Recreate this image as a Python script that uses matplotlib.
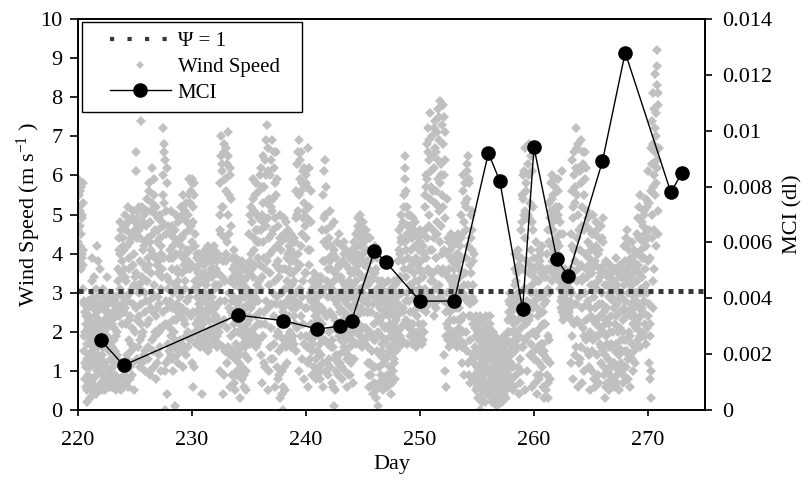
import numpy as np
import matplotlib
matplotlib.use("Agg")
import matplotlib.pyplot as plt
from matplotlib.lines import Line2D
from matplotlib.ticker import FuncFormatter
from matplotlib.legend_handler import HandlerLine2D

plt.rcParams['font.family'] = ['Liberation Serif', 'DejaVu Serif']
plt.rcParams['mathtext.fontset'] = 'custom'
plt.rcParams['mathtext.rm'] = 'Liberation Serif'
plt.rcParams['mathtext.it'] = 'Liberation Serif:italic'

# ---------------- data ----------------
first_day = 220
# wind speed (m/s) on the hour, one row per day
ws_220_229 = [
    [5.9,4.6,5.5,3.8, 5.1,4.2,5.7,3.6, 4.9,4.0,5.3,3.7, 2.8,1.9,2.5,1.2, 2.2,0.6,1.7,0.2, 2.6,0.9,2.1,1.4],
    [2.4,1.1,2.8,0.5, 1.9,3.9,1.5,2.6, 0.8,2.2,3.4,1.3, 2.7,0.4,1.8,2.5, 4.2,1.0,2.9,1.6, 0.6,2.3,3.6,1.2],
    [2.0,0.7,2.6,1.4, 3.1,0.9,2.3,1.7, 2.8,0.5,1.9,2.5, 1.1,3.4,2.1,0.8, 2.7,1.5,2.4,0.6, 1.8,2.9,1.3,2.2],
    [1.6,2.5,0.7,2.1, 1.2,2.8,0.9,1.9, 2.4,0.5,2.0,1.4, 2.6,3.3,0.8,4.1, 2.5,4.8,3.0,0.6, 3.8,2.2,4.4,2.9],
    [3.6,0.9,4.7,2.6, 5.0,0.7,3.3,4.2, 1.3,2.8,5.2,1.8, 3.9,0.8,2.4,4.5, 1.5,3.1,4.9,1.2, 2.7,0.5,4.0,2.0],
    [3.4,4.8,6.6,6.1, 2.3,4.4,1.6,5.1, 3.0,4.6,1.1,3.8, 7.4,2.7,5.2,1.9, 4.1,3.3,5.0,1.4, 2.5,4.3,1.0,3.6],
    [4.7,2.2,5.4,1.3, 3.9,5.8,2.8,4.3, 0.9,3.5,5.1,1.8, 6.2,4.0,2.5,5.5, 1.1,3.2,4.6,2.0, 5.0,0.8,3.7,2.6],
    [2.9,4.6,1.4,3.8, 5.0,2.1,4.2,1.0, 3.4,4.8,2.5,6.0, 7.2,6.8,5.3,0.0, 6.4,1.2,4.5,5.8, 0.4,3.1,2.2,3.9],
    [1.5,4.1,2.8,5.1, 1.9,3.6,4.7,2.3, 1.0,3.9,4.4,2.0, 0.1,3.2,5.0,1.6, 2.7,4.3,1.2,3.5, 4.9,2.4,1.8,4.0],
    [3.0,5.2,1.7,4.4, 2.6,5.5,1.1,3.7, 4.9,2.2,3.3,5.3, 1.4,4.1,2.8,5.0, 2.0,4.6,5.9,1.8, 3.6,5.6,2.4,4.3],
]
ws_230_239 = [
    [5.9,1.2,4.8,0.6, 5.5,3.1,2.0,4.5, 1.7,3.6,2.5,3.9, 1.8,3.2,2.7,4.0, 1.6,2.9,3.5,2.1, 3.8,2.4,0.4,3.0],
    [2.2,3.7,1.6,4.1, 2.8,3.3,1.9,3.9, 2.5,4.2,1.5,3.0, 2.6,3.8,2.0,3.5, 1.7,4.0,2.9,3.4, 1.8,3.6,2.3,4.2],
    [3.1,1.8,3.9,2.4, 3.5,1.6,4.0,2.7, 3.2,2.0,4.6,1.0, 5.8,6.5,7.0,3.4, 6.1,0.4,5.2,2.3, 6.8,4.4,1.5,5.6],
    [3.8,6.3,1.2,5.0, 7.1,2.6,4.5,0.6, 6.0,3.3,5.4,1.9, 2.8,0.9,3.6,1.5, 4.1,2.2,0.5,3.2, 1.7,3.9,2.5,1.0],
    [2.0,3.5,1.2,2.8, 3.7,0.3,2.4,1.6, 3.1,0.8,3.8,1.9, 2.6,0.6,3.3,1.4, 2.9,3.6,1.0,2.2, 3.4,1.8,2.7,3.0],
    [2.3,4.5,1.7,3.8, 5.2,2.6,4.8,1.9, 3.4,5.9,2.1,4.1, 5.5,2.9,1.6,4.6, 3.2,5.0,2.2,3.9, 5.6,1.8,4.3,6.0],
    [3.1,6.2,1.4,5.0, 0.7,4.3,6.5,2.5, 5.7,1.1,3.6,6.0, 2.8,7.3,7.8,4.9, 0.5,6.7,3.2,5.4, 1.6,4.0,6.4,2.1],
    [5.1,6.9,1.3,4.6, 6.2,2.4,5.8,0.6, 3.7,6.6,1.9,4.2, 2.9,0.8,4.7,1.5, 3.4,0.3,5.0,2.2, 4.1,1.0,3.0,0.6],
    [0.0,4.9,1.8,3.6, 0.5,4.4,2.7,1.2, 3.9,2.2,4.6,1.7, 3.1,4.2,2.0,3.5, 1.6,4.5,2.6,3.8, 1.9,4.0,2.4,3.3],
    [2.8,4.3,1.5,5.6, 3.0,6.3,2.1,7.7, 5.1,1.0,6.9,3.7, 5.9,2.4,6.6,4.5, 1.3,6.1,3.3,5.3, 0.8,4.7,2.6,5.8],
]
ws_240_249 = [
    [3.5,6.0,1.6,4.9, 6.7,0.6,5.2,2.9, 4.1,1.3,5.6,2.2, 3.3,0.9,2.6,1.7, 3.5,1.1,2.4,3.0, 0.8,2.1,3.4,1.5],
    [2.7,1.0,3.2,1.9, 2.5,0.8,3.4,2.0, 1.4,3.0,4.6,0.6, 5.5,3.1,6.1,1.8, 5.0,6.4,2.4,5.7, 1.2,4.2,3.6,0.9],
    [4.4,2.0,5.1,1.1, 3.6,4.7,0.7,2.9, 4.0,1.6,0.1,3.3, 4.8,2.3,0.5,3.9, 1.4,2.7,4.3,0.9, 3.0,1.9,3.7,2.5],
    [1.2,3.4,2.1,4.2, 0.8,2.9,3.8,1.6, 2.5,4.3,1.0,3.1, 2.2,3.7,0.6,2.7, 4.0,1.4,3.3,2.0, 3.9,0.9,2.6,3.5],
    [1.8,4.1,0.7,3.2, 2.4,4.3,1.3,3.6, 2.7,4.5,1.7,3.9, 2.9,4.7,4.9,2.2, 3.5,5.0,1.9,4.2, 2.6,3.8,1.6,4.4],
    [3.0,4.8,2.1,3.7, 1.7,4.5,2.8,3.4, 1.9,4.1,2.5,1.2, 3.6,0.6,4.4,2.0, 3.3,0.9,3.9,1.5, 2.7,0.4,3.5,1.8],
    [2.9,4.2,1.1,3.6, 0.5,2.4,3.9,0.1, 2.0,3.3,0.7,2.6, 1.4,3.1,0.9,2.2, 1.7,2.9,0.5,3.2, 1.2,2.5,1.8,0.8],
    [2.7,1.3,3.0,0.6, 2.1,3.3,1.6,2.4, 0.9,2.8,1.9,0.4, 3.1,1.5,2.5,1.0, 2.9,2.2,1.3,3.2, 1.8,2.6,3.0,2.0],
    [1.9,2.7,3.8,1.6, 4.6,2.5,3.4,5.0, 2.1,4.3,3.0,1.8, 4.8,2.6,5.5,3.6, 5.9,6.5,2.3,4.1, 5.2,1.7,3.9,4.7],
    [2.8,4.4,1.9,5.0, 3.2,2.2,4.6,1.7, 3.7,4.9,2.5,3.5, 1.8,4.2,2.9,3.9, 1.6,4.5,2.4,3.3, 2.0,4.1,2.7,3.6],
]
ws_250_259 = [
    [1.9,4.3,2.6,3.8, 1.7,4.5,2.2,3.4, 4.0,2.0,5.2,3.1, 6.0,2.5,6.8,4.4, 3.6,7.2,5.0,2.7, 6.4,4.1,7.6,3.3],
    [5.7,2.9,7.0,4.6, 3.5,6.2,2.4,5.3, 7.4,3.9,6.6,4.8, 2.8,5.9,7.7,3.2, 5.1,6.9,4.3,7.9, 3.0,6.3,4.0,5.5],
    [7.8,3.6,6.0,1.4, 4.9,7.1,2.5,0.6, 5.4,3.0,1.8,4.4, 2.7,3.6,1.6,4.1, 2.3,3.3,4.5,1.9, 3.8,2.6,4.2,2.0],
    [3.4,1.7,4.3,2.8, 3.7,1.6,4.0,2.3, 3.1,4.5,2.1,3.6, 1.8,4.2,2.9,5.0, 1.2,3.9,5.6,2.4, 4.8,0.9,3.5,5.3],
    [2.0,4.6,6.1,1.5, 5.4,6.5,3.2,0.9, 5.8,2.7,0.7,4.4, 3.5,1.3,5.1,2.2, 3.8,0.8,4.0,1.6, 2.3,0.5,1.9,1.1],
    [1.4,0.6,2.2,1.0, 1.8,0.3,2.4,0.0, 1.5,0.8,2.0,1.2, 0.4,1.7,2.3,0.9, 1.3,0.2,2.1,1.1, 0.7,1.9,0.5,1.6],
    [1.0,2.1,0.4,1.6, 2.4,0.8,1.3,0.2, 1.8,1.1,0.5,1.5, 0.9,1.9,0.3,1.2, 0.7,1.7,0.1,1.4, 0.6,1.0,1.8,0.4],
    [1.3,0.5,1.7,0.9, 1.1,0.2,1.6,0.8, 1.9,0.4,1.2,0.7, 1.5,0.3,1.0,1.8, 0.6,2.3,1.4,2.8, 0.9,2.0,3.0,1.2],
    [2.5,0.8,1.7,2.9, 1.1,2.2,0.6,3.2, 1.5,4.0,2.6,0.9, 3.5,1.8,4.1,2.3, 0.4,3.7,1.3,2.8, 4.6,1.0,5.5,2.4],
    [6.0,1.6,5.0,3.1, 0.5,6.7,4.4,2.2, 5.6,1.0,3.8,6.3, 2.7,4.9,6.8,1.4, 5.3,4.1,3.0,6.1, 0.6,4.6,2.0,3.4],
]
ws_260_270 = [
    [1.5,3.9,0.7,2.8, 4.3,1.9,3.3,0.4, 2.4,3.7,1.2,4.1, 2.1,0.9,3.5,1.7, 2.9,4.2,0.6,2.5, 3.6,0.3,1.4,3.0],
    [2.2,0.5,3.4,1.3, 4.0,0.3,4.6,1.8, 5.3,3.6,0.8,5.8, 4.2,3.3,6.0,4.8, 3.5,5.5,4.1,5.0, 3.7,5.7,4.4,3.4],
    [4.9,3.6,5.6,4.0, 3.3,5.2,4.5,3.1, 3.6,2.6,3.4,2.9, 6.1,2.3,3.5,2.7, 3.2,2.5,3.6,2.8, 3.0,2.4,3.3,2.7],
    [3.1,2.5,3.5,2.8, 3.3,4.5,1.2,5.6, 3.0,6.4,0.8,4.9, 2.2,6.0,3.8,5.3, 1.6,7.2,4.4,6.7, 0.6,5.0,2.9,6.2],
    [4.1,1.3,5.8,6.9, 2.6,4.7,0.7,6.3, 3.4,5.5,1.9,4.0, 6.6,2.3,3.6,5.1, 1.5,4.3,2.8,3.7, 1.1,4.6,0.5,3.2],
    [2.4,4.2,1.0,3.5, 5.0,1.8,2.9,4.5, 0.6,3.8,2.2,4.8, 1.4,3.1,4.0,0.9, 2.7,4.4,1.7,3.4, 2.1,4.7,1.2,3.0],
    [3.6,1.5,4.9,2.5, 0.9,0.3,3.2,1.9, 3.8,0.7,2.6,3.4, 1.3,2.9,0.5,3.7, 2.0,1.1,3.1,2.4, 0.8,3.5,1.6,2.8],
    [1.2,3.3,2.2,0.6, 3.9,1.7,2.7,0.9, 3.5,2.0,1.4,3.0, 0.5,2.5,3.7,1.8, 2.9,1.0,3.4,2.3, 0.7,2.6,4.2,1.5],
    [3.8,1.1,4.4,4.6, 2.4,0.8,3.6,2.0, 4.1,1.4,3.2,0.6, 2.7,3.9,1.7,4.3, 2.2,1.0,3.5,2.9, 1.6,3.0,2.1,4.0],
    [2.3,4.5,1.8,3.7, 5.2,2.6,4.0,1.6, 5.5,3.1,2.0,4.8, 3.4,1.9,4.3,2.8, 5.0,2.2,3.6,5.4, 1.7,4.6,3.0,2.4],
    [4.4,6.1,1.2,5.3, 0.8,3.9,6.7,0.3, 5.0,7.4,2.6,8.1, 6.0,4.6,8.6,5.5, 7.0,4.2,8.3,9.2, 6.4,5.1,7.8],
]
# wind speed (m/s) on the half hour, one row per day
wsh_220_229 = [
    [4.3,5.2,3.9,4.7, 5.6,3.7,4.5,5.0, 3.9,5.8,4.1,3.1, 1.5,2.7,0.8,2.0, 1.1,2.4,0.5,1.3, 1.9,2.8,0.7,2.3],
    [1.7,0.3,2.2,1.4, 3.3,0.7,2.0,1.2, 2.9,1.6,0.6,2.4, 1.9,1.1,3.1,0.9, 2.1,3.8,1.4,0.5, 2.6,1.0,1.9,2.7],
    [1.3,2.2,0.5,1.8, 2.6,1.6,0.8,2.9, 1.2,2.3,0.7,1.6, 2.8,1.9,0.6,2.5, 1.0,2.2,1.7,3.0, 0.9,2.4,1.8,0.6],
    [2.3,1.1,2.7,0.6, 1.8,2.4,1.5,0.7, 2.9,1.3,2.5,0.8, 3.6,4.4,2.4,3.1, 4.0,0.5,3.5,4.6, 2.7,0.8,3.4,4.2],
    [2.5,4.1,1.0,3.4, 2.2,4.6,1.4,2.9, 4.8,0.6,3.6,2.3, 1.1,4.3,3.0,1.7, 4.4,2.1,0.9,3.7, 5.1,1.6,3.2,4.6],
    [4.5,2.6,3.5,4.9, 1.3,3.2,4.7,2.4, 5.2,1.8,3.1,4.4, 2.2,4.7,3.4,1.2, 4.8,2.0,3.7,4.2, 1.5,3.0,5.1,2.8],
    [3.3,5.1,1.6,4.4, 2.3,3.7,5.6,1.0, 4.8,2.6,4.1,3.0, 5.3,1.5,4.5,2.9, 5.9,1.9,3.9,5.2, 2.4,4.3,1.2,4.9],
    [3.5,2.0,4.9,2.7, 1.6,4.4,3.1,4.0, 2.1,3.6,5.5,4.7, 6.6,3.9,2.2,1.0, 5.1,2.8,6.2,3.4, 2.6,1.7,4.7,1.3],
    [3.3,2.1,4.5,1.4, 3.9,2.6,1.3,4.2, 3.0,1.6,2.6,4.6, 1.8,4.0,2.3,3.6, 1.4,3.3,4.8,2.5, 3.1,1.5,4.4,2.9],
    [4.2,2.4,3.5,5.0, 1.5,3.9,4.5,2.3, 3.1,5.1,1.9,4.0, 3.6,2.5,4.8,1.6, 3.8,5.5,2.9,4.1, 5.3,1.9,4.7,5.8],
]
wsh_230_239 = [
    [3.7,5.2,2.5,5.8, 1.1,4.2,3.3,2.2, 3.1,2.0,4.0,2.9, 3.5,2.3,3.7,1.9, 3.4,2.6,1.7,3.9, 2.8,3.3,1.8,2.5],
    [3.0,1.9,3.5,2.4, 4.0,1.7,3.2,2.7, 3.8,2.0,3.4,2.3, 1.6,3.9,2.9,2.1, 3.6,2.5,1.8,3.8, 2.7,4.1,1.9,3.2],
    [2.6,3.6,2.1,3.2, 1.9,3.8,2.3,3.5, 1.7,3.9,2.8,5.0, 2.2,4.5,6.3,5.2, 1.6,3.8,6.6,0.9, 3.3,5.9,2.8,4.0],
    [6.7,2.1,4.3,6.5, 1.6,5.5,3.0,6.2, 1.4,4.7,2.5,3.9, 1.5,3.4,2.4,0.7, 2.9,1.3,3.7,2.0, 3.5,0.9,2.7,3.8],
    [2.6,1.5,3.3,0.9, 2.2,1.4,3.4,2.9, 1.1,2.5,1.7,3.2, 0.9,2.1,3.6,2.4, 1.6,2.6,0.5,3.1, 2.0,3.7,1.3,2.4],
    [3.5,2.0,5.0,2.9, 4.0,1.8,3.6,5.4, 2.7,4.4,3.0,5.1, 1.9,3.7,5.8,2.4, 4.3,1.7,4.6,2.8, 3.3,4.9,2.5,3.7],
    [4.6,2.2,5.7,3.4, 5.3,1.9,4.8,1.2, 3.9,6.4,2.2,4.7, 6.9,5.3,3.8,6.1, 2.6,4.4,1.0,6.0, 3.5,5.2,1.3,4.5],
    [2.7,4.1,5.4,3.0, 1.7,6.6,3.3,4.9, 5.5,2.7,5.9,1.1, 3.8,2.0,3.6,0.9, 4.4,1.9,2.7,4.3, 1.6,3.6,0.4,2.5],
    [2.6,1.1,4.5,2.2, 3.1,1.6,4.8,3.3, 2.8,4.0,1.9,3.6, 2.4,3.8,2.9,1.7, 4.1,3.2,1.8,4.3, 2.8,3.5,1.7,4.4],
    [3.8,2.2,4.9,2.6, 5.0,3.6,6.6,4.0, 2.7,5.5,3.1,6.4, 1.9,4.2,5.6,2.9, 5.8,2.2,4.9,1.7, 6.2,3.5,5.1,1.9],
]
wsh_240_249 = [
    [4.4,2.6,5.7,1.2, 4.1,3.7,6.2,1.9, 3.0,4.8,1.8,2.8, 1.5,3.1,2.0,3.3, 0.9,2.8,1.9,2.6, 3.2,1.3,2.7,2.3],
    [1.5,2.9,2.3,1.1, 3.3,1.7,2.6,1.0, 3.4,2.2,2.6,3.8, 1.2,4.3,4.9,2.5, 3.8,1.0,4.6,3.3, 2.4,1.7,2.9,3.9],
    [1.3,3.2,3.8,2.5, 1.6,4.2,3.1,1.8, 2.4,0.6,2.1,4.1, 1.3,3.5,2.8,1.0, 3.6,2.1,1.2,3.4, 2.0,4.5,1.4,2.9],
    [2.6,1.8,3.7,1.1, 3.3,1.9,2.3,4.0, 1.5,3.2,2.8,1.8, 4.1,1.3,3.0,2.4, 1.9,3.6,0.9,2.9, 1.6,3.1,2.2,1.2],
    [2.9,1.3,3.8,1.7, 3.5,2.0,3.0,4.0, 3.3,2.1,4.2,2.4, 3.7,2.6,4.0,4.6, 2.0,4.4,3.1,2.5, 4.7,1.8,3.4,2.8],
    [4.0,2.5,4.3,1.8, 3.2,4.6,2.1,2.5, 3.8,1.6,3.2,2.7, 0.9,2.9,3.8,1.2, 2.5,4.1,1.9,3.0, 1.1,3.4,2.2,0.7],
    [3.5,1.8,2.9,0.3, 4.0,1.5,3.1,0.6, 2.7,1.1,2.3,3.0, 0.6,1.9,2.8,1.5, 3.3,0.8,2.4,1.3, 2.8,0.7,2.1,3.0],
    [1.8,2.5,0.9,2.7, 1.4,2.9,0.7,3.0, 2.2,1.1,2.6,1.5, 2.0,0.7,2.8,1.7, 3.3,1.2,2.4,0.8, 2.3,1.5,2.1,2.9],
    [2.4,3.3,1.8,4.1, 3.0,4.0,1.9,4.4, 3.4,1.7,4.7,2.5, 3.8,5.2,2.2,4.3, 6.2,3.4,5.6,2.8, 4.5,3.0,5.0,2.2],
    [3.6,2.1,4.7,2.5, 4.1,1.9,3.8,4.4, 2.2,3.1,4.6,2.0, 3.3,4.8,1.9,3.0, 4.2,2.6,3.7,1.8, 4.4,3.1,2.2,4.6],
]
wsh_250_259 = [
    [3.1,2.0,4.1,2.9, 3.5,1.8,4.2,2.6, 3.0,4.6,2.7,5.5, 3.9,5.7,3.0,5.9, 6.6,2.9,4.7,6.9, 3.5,5.4,2.8,6.1],
    [4.1,6.5,3.3,5.6, 7.2,2.7,4.4,6.7, 3.1,5.6,2.6,7.1, 4.5,6.4,3.6,5.2, 7.5,2.9,5.8,6.0, 4.7,7.3,3.5,6.8],
    [5.2,2.8,7.5,4.1, 1.0,6.4,3.5,1.9, 4.0,2.2,3.4,2.1, 4.3,1.9,3.0,2.5, 3.9,1.7,3.1,2.6, 4.4,1.8,3.2,3.6],
    [2.3,3.9,2.0,3.3, 2.6,4.4,1.9,3.0, 4.0,2.6,3.8,1.7, 3.4,2.3,4.4,1.6, 4.5,3.0,2.0,6.0, 3.2,1.7,5.8,2.9],
    [3.9,5.2,2.8,6.3, 4.2,1.2,5.9,2.4, 3.7,1.8,5.0,2.4, 4.6,2.9,4.1,3.2, 1.4,2.8,1.2,2.1, 0.9,1.5,2.4,0.7],
    [0.9,2.0,0.3,1.5, 1.1,2.2,0.6,1.3, 1.9,0.5,1.6,0.2, 1.1,2.0,0.7,1.4, 1.8,0.5,1.2,2.4, 1.5,0.4,1.3,2.0],
    [1.7,0.6,1.3,2.2, 0.5,1.9,0.9,1.6, 0.3,1.4,2.0,0.7, 1.6,0.4,1.0,1.7, 1.1,0.3,1.3,0.8, 1.5,0.2,1.2,1.6],
    [0.8,1.5,0.3,1.4, 0.6,1.3,1.0,0.3, 1.4,0.9,1.8,1.1, 0.5,1.7,0.8,1.3, 2.0,1.2,0.7,2.5, 1.7,2.7,1.5,2.4],
    [1.4,2.3,1.1,2.0, 0.5,2.7,1.8,2.3, 3.6,2.0,3.3,1.6, 2.8,1.1,3.0,3.9, 1.9,2.6,0.7,3.6, 2.1,3.9,1.6,4.8],
    [3.6,5.4,2.3,6.1, 1.8,5.1,3.1,5.8, 2.8,4.9,1.9,5.0, 3.5,6.0,2.3,3.7, 2.4,6.5,1.7,4.8, 3.2,2.6,5.2,1.3],
]
wsh_260_270 = [
    [2.8,1.3,3.6,2.0, 3.0,0.9,2.6,3.9, 1.6,2.9,3.3,0.8, 3.8,1.5,2.5,4.0, 1.1,3.5,2.2,1.7, 2.7,1.5,3.4,2.2],
    [1.3,2.8,0.9,3.6, 1.9,3.1,0.7,4.3, 3.0,4.9,1.2,4.6, 5.1,3.8,5.4,3.5, 4.6,4.0,5.9,3.9, 4.9,3.5,5.2,4.2],
    [4.3,5.0,3.6,5.9, 4.2,3.5,4.8,3.4, 2.8,3.3,2.5,3.1, 4.5,2.9,3.1,2.4, 3.5,2.8,3.0,2.4, 3.4,2.8,3.1,2.5],
    [2.7,3.4,2.4,3.1, 2.6,3.6,2.3,4.2, 1.9,5.2,3.5,6.6, 4.1,1.4,5.7,2.7, 6.2,3.3,5.5,2.3, 6.8,3.6,1.2,4.6],
    [2.2,6.1,3.7,1.6, 5.2,3.3,6.6,2.1, 4.6,1.0,5.9,3.0, 4.7,1.8,6.2,2.7, 3.4,1.9,4.9,1.4, 3.9,2.6,2.0,4.1],
    [3.6,1.5,4.5,2.3, 3.2,4.1,0.8,3.7, 2.6,1.9,4.2,3.1, 2.3,4.6,1.9,3.3, 4.1,0.7,3.6,2.4, 1.6,3.5,2.7,4.4],
    [2.0,4.3,1.1,3.7, 2.2,1.4,2.6,0.6, 2.3,3.5,1.7,1.0, 3.2,1.6,2.2,3.0, 0.9,3.6,1.7,0.6, 2.9,2.0,3.3,1.2],
    [2.6,1.5,3.6,1.1, 2.4,3.1,0.7,3.2, 1.6,2.8,3.6,1.1, 2.1,3.4,1.2,3.0, 1.5,3.7,2.0,0.9, 3.2,1.8,3.5,2.8],
    [2.5,3.3,1.8,3.5, 1.5,3.0,1.3,4.3, 2.5,3.7,1.9,2.4, 3.4,1.3,3.2,2.6, 3.8,1.5,2.6,4.1, 2.4,1.2,3.6,2.8],
    [3.3,2.7,4.9,2.2, 3.5,4.4,1.9,3.0, 4.1,2.4,3.9,2.6, 4.7,2.5,3.0,5.1, 3.9,4.5,1.9,4.2, 3.2,5.2,2.1,3.8],
    [5.3,2.7,4.6,1.9, 2.2,5.6,1.0,4.4, 6.3,3.3,5.7,6.8, 7.7,3.6,7.2,6.6, 5.8,7.6,6.2,8.8, 8.1,4.5,6.7],
]

mci_day = [222, 224, 234, 238, 241, 243, 244, 246, 247, 250, 253,
           256, 257, 259, 260, 262, 263, 266, 268, 272, 273]
mci_val = [0.0025, 0.0016, 0.0034, 0.0032, 0.0029, 0.0030, 0.0032, 0.0057, 0.0053, 0.0039, 0.0039,
           0.0092, 0.0082, 0.0036, 0.0094, 0.0054, 0.0048, 0.0089, 0.0128, 0.0078, 0.0085]

psi1_wind = 3.05   # wind speed at which Psi = 1

x_ticks = [220, 230, 240, 250, 260, 270]
y_ticks = list(range(0, 11))
mci_ticks = [0, 0.002, 0.004, 0.006, 0.008, 0.01, 0.012, 0.014]

# --------------- assemble the half-hourly series ---------------
t_wind, v_wind = [], []
for rows, offset in ((ws_220_229 + ws_230_239 + ws_240_249 + ws_250_259 + ws_260_270, 0.0),
                     (wsh_220_229 + wsh_230_239 + wsh_240_249 + wsh_250_259 + wsh_260_270, 0.5)):
    for i, row in enumerate(rows):
        for h, v in enumerate(row):
            t_wind.append(first_day + i + (h + offset) / 24.0)
            v_wind.append(v)


class PaddedLine(HandlerLine2D):
    """Line handle drawn with some empty room on its left."""
    def __init__(self, lpad, **kw):
        super().__init__(**kw)
        self.lpad = lpad

    def create_artists(self, legend, orig_handle, xdescent, ydescent, width,
                       height, fontsize, trans):
        p = self.lpad * fontsize
        return super().create_artists(legend, orig_handle, xdescent - p, ydescent,
                                      width - p, height, fontsize, trans)


# --------------- plot ---------------
FS = 16
fig = plt.figure(figsize=(8.11, 4.8), dpi=100)
ax = fig.add_axes([78/811, 1 - 410/480, (705-78)/811, (410-19)/480])

gray = '#c0c0c0'
dot_col = '#383838'
ax.plot(t_wind, v_wind, ls='none', marker='D', ms=5.4, mew=0, color=gray, zorder=2)
ax.axhline(psi1_wind, color=dot_col, lw=3.6, ls=(0, (1, 1)), zorder=3)

ax.set_xlim(220, 275)
ax.set_ylim(0, 10)
ax.set_xticks(x_ticks)
ax.set_yticks(y_ticks)

ax2 = ax.twinx()
ax2.plot(mci_day, mci_val, '-o', color='k', lw=1.0, ms=9.5, zorder=5)
ax2.set_ylim(0, 0.014)
ax2.set_yticks(mci_ticks)
ax2.yaxis.set_major_formatter(FuncFormatter(lambda v, p: '%g' % v))

for a in (ax, ax2):
    for s in a.spines.values():
        s.set_linewidth(1.2)
        s.set_color('k')

ax.tick_params(axis='x', direction='out', length=4, width=1.2, pad=11, labelsize=FS, top=False)
ax.tick_params(axis='y', direction='out', length=6, width=1.2, pad=5, labelsize=FS)
ax2.tick_params(axis='y', direction='out', length=5, width=1.2, pad=7, labelsize=FS)

ax.set_xlabel('Day', fontsize=FS, labelpad=4)
ax.set_ylabel('Wind Speed (m s$^{-1}$ )', fontsize=FS, labelpad=-2)
ax2.set_ylabel('MCI (dl)', fontsize=FS, labelpad=8)

h_psi = Line2D([], [], color=dot_col, lw=3.0, ls=(0, (1, 3.2)))
h_ws = Line2D([], [], ls='none', marker='D', ms=4.2, mew=0, color=gray)
h_mci = Line2D([], [], color='k', lw=1.0, marker='o', ms=9.5)
handles = [h_psi, h_ws, h_mci]
labels = ['\u03a8 = 1', 'Wind Speed', 'MCI']
hm = {h: PaddedLine(0.9) for h in handles}
leg = ax2.legend(handles, labels, loc='upper left',
                 bbox_to_anchor=(0.0064, 0.0, 0.351, 0.992), mode='expand',
                 borderaxespad=0, frameon=True, fancybox=False, framealpha=1,
                 edgecolor='k', fontsize=15, handlelength=3.8, handletextpad=0.35,
                 labelspacing=0.3, borderpad=0.45, handler_map=hm)
leg.get_frame().set_linewidth(1.0)

fig.savefig('out.png', dpi=100)
